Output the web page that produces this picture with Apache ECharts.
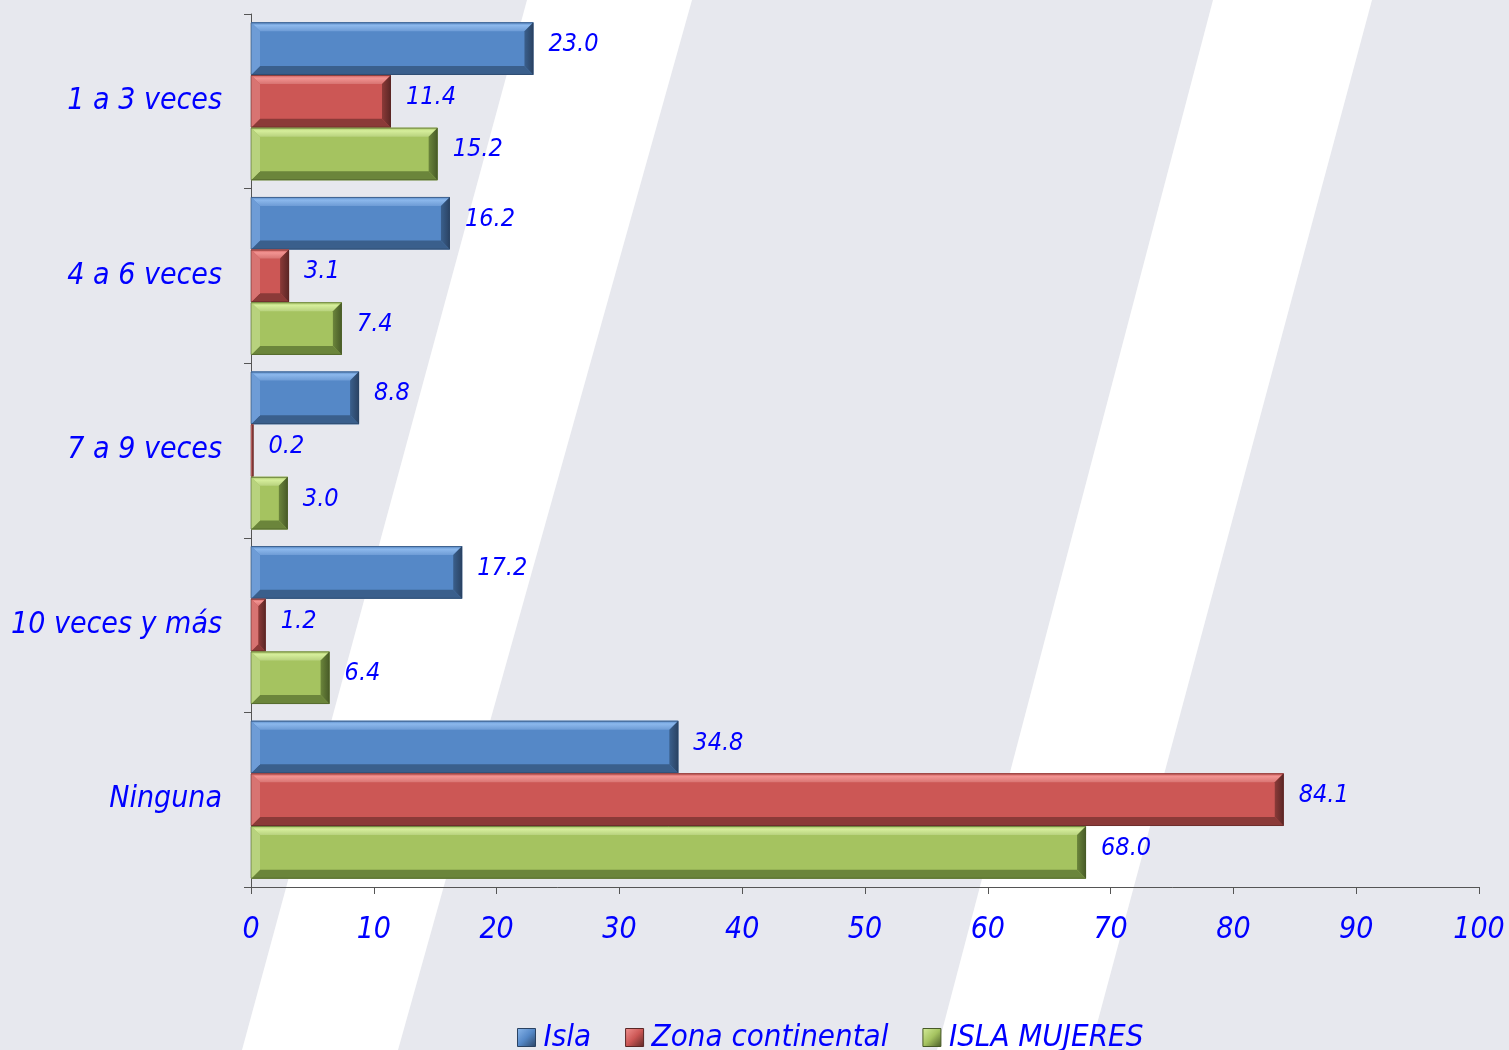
<!DOCTYPE html>
<html>
<head>
<meta charset="utf-8">
<style>
  html, body { margin: 0; padding: 0; background: #E7E8EE; }
  #chart { width: 1509px; height: 1050px; }
</style>
<script src="https://cdn.jsdelivr.net/npm/echarts@6/dist/echarts.min.js"></script>
</head>
<body>
<div id="chart"></div>
<script>
// Frecuencia por zona (%)
const categories = ['1 a 3 veces', '4 a 6 veces', '7 a 9 veces', '10 veces y más', 'Ninguna'];
const seriesNames = ['Isla', 'Zona continental', 'ISLA MUJERES'];
const isla = [23.0, 16.2, 8.8, 17.2, 34.8];
const zonaContinental = [11.4, 3.1, 0.2, 1.2, 84.1];
const islaMujeres = [15.2, 7.4, 3.0, 6.4, 68.0];
const xTicks = { min: 0, max: 100, interval: 10 };

// Bevelled bar palettes: face, top edge, bottom edge, left edge, right edge
const palettes = [
  { face: '#5588C7', top: '#8CB8EC', bottom: '#3A5F8C', left: '#6E9CD6', right: '#2A4262' },
  { face: '#CC5755', top: '#F29492', bottom: '#8B3A38', left: '#D87472', right: '#5A2625' },
  { face: '#A5C360', top: '#D6EE9C', bottom: '#6B853B', left: '#B8D27E', right: '#475A27' }
];

const FONT = '"DejaVu Sans Condensed", "DejaVu Sans", sans-serif';
const BLUE = '#0000FF';
const GROUP_FILL = 0.905;

function makeRenderer(sIdx) {
  const p = palettes[sIdx];
  return function (params, api) {
    const cat = api.value(0);
    const val = api.value(1);
    const band = api.size([0, 1])[1];
    const h = band * GROUP_FILL / 3;
    const base = api.coord([0, cat]);
    const end = api.coord([val, cat]);
    const x0 = base[0];
    const x1 = end[0];
    const y0 = base[1] - 1.5 * h + sIdx * h;
    const y1 = y0 + h;
    const w = x1 - x0;
    const b = Math.min(9, w / 2, h / 2);
    const children = [
      { type: 'rect', shape: { x: x0, y: y0, width: w, height: h }, style: { fill: p.face } },
      { type: 'polygon', shape: { points: [[x0, y0], [x1, y0], [x1 - b, y0 + b], [x0 + b, y0 + b]] },
        style: { fill: new echarts.graphic.LinearGradient(0, 0, 0, 1, [
          { offset: 0, color: p.face }, { offset: 0.35, color: p.top }, { offset: 1, color: p.left }]) } },
      { type: 'polygon', shape: { points: [[x0, y1], [x1, y1], [x1 - b, y1 - b], [x0 + b, y1 - b]] },
        style: { fill: p.bottom } },
      { type: 'polygon', shape: { points: [[x0, y0], [x0 + b, y0 + b], [x0 + b, y1 - b], [x0, y1]] },
        style: { fill: p.left } },
      { type: 'polygon', shape: { points: [[x1, y0], [x1 - b, y0 + b], [x1 - b, y1 - b], [x1, y1]] },
        style: { fill: new echarts.graphic.LinearGradient(0, 0, 1, 0, [
          { offset: 0, color: p.bottom }, { offset: 1, color: p.right }]) } },
      { type: 'rect', shape: { x: x0, y: y0 + 0.5, width: w - 0.5, height: h - 1 },
        style: { fill: null, stroke: p.right, lineWidth: 1, opacity: 0.6 } },
      { type: 'text', style: {
          x: x1 + 15, y: (y0 + y1) / 2 - 4,
          text: val.toFixed(1),
          align: 'left', verticalAlign: 'middle',
          fill: BLUE, font: 'italic 25px ' + FONT } }
    ];
    return { type: 'group', children: children };
  };
}

const seriesData = [isla, zonaContinental, islaMujeres];

const option = {
  backgroundColor: '#E7E8EE',
  animation: false,
  textStyle: { fontFamily: FONT, fontStyle: 'italic', color: BLUE },
  graphic: [
    { type: 'polygon', z: -10, silent: true,
      shape: { points: [[527, 0], [692, 0], [398, 1050], [242, 1050]] },
      style: { fill: '#FFFFFF' } },
    { type: 'polygon', z: -10, silent: true,
      shape: { points: [[1213, 0], [1372, 0], [1090, 1050], [937, 1050]] },
      style: { fill: '#FFFFFF' } }
  ],
  grid: { left: 251, right: 30, top: 14, bottom: 163, containLabel: false },
  xAxis: {
    type: 'value',
    min: xTicks.min, max: xTicks.max, interval: xTicks.interval,
    axisLine: { show: true, lineStyle: { color: '#555555', width: 1 } },
    axisTick: { show: true, length: 7, lineStyle: { color: '#555555' } },
    splitLine: { show: false },
    axisLabel: { color: BLUE, fontSize: 30, fontStyle: 'italic', fontFamily: FONT, margin: 28 }
  },
  yAxis: {
    type: 'category',
    data: categories,
    inverse: true,
    axisLine: { show: true, lineStyle: { color: '#555555', width: 1 } },
    axisTick: { show: true, length: 7, lineStyle: { color: '#555555' } },
    axisLabel: { color: BLUE, fontSize: 30, fontStyle: 'italic', fontFamily: FONT, margin: 29,
      padding: [6, 0, 0, 0] }
  },
  legend: {
    bottom: -8,
    left: 512,
    itemWidth: 18, itemHeight: 18, itemGap: 34,
    textStyle: { color: BLUE, fontSize: 31, fontStyle: 'italic', fontFamily: FONT, padding: [0, 0, 0, 3] },
    data: seriesNames.map((n, i) => ({
      name: n, icon: 'rect',
      itemStyle: { color: new echarts.graphic.LinearGradient(0, 0, 1, 1, [
        { offset: 0, color: palettes[i].top }, { offset: 0.5, color: palettes[i].face }, { offset: 1, color: palettes[i].right }]),
        borderColor: palettes[i].right, borderWidth: 1 }
    }))
  },
  series: seriesNames.map((n, i) => ({
    name: n,
    type: 'custom',
    renderItem: makeRenderer(i),
    itemStyle: { color: palettes[i].face },
    encode: { x: 1, y: 0 },
    data: seriesData[i].map((v, c) => [c, v]),
    z: 2
  }))
};

const chart = echarts.init(document.getElementById('chart'), null, { renderer: 'canvas' });
chart.setOption(option);
</script>
</body>
</html>
